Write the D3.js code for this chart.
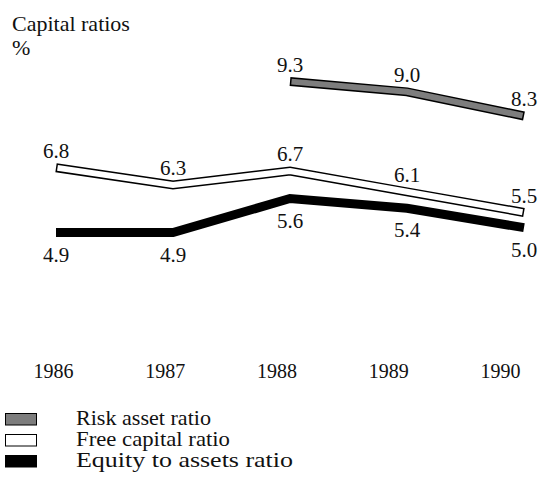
<!DOCTYPE html>
<html>
<head>
<meta charset="utf-8">
<script src="https://cdn.jsdelivr.net/npm/d3@7"></script>
<style>
  body { margin: 0; background: #fff; }
  svg { display: block; }
  svg text { font-family: "Liberation Serif", "DejaVu Serif", serif; fill: #111; }
</style>
</head>
<body>
<svg width="548" height="488"></svg>
<script>
// data
const years = ['1986', '1987', '1988', '1989', '1990'];
const riskYears = ['1988', '1989', '1990'];
const riskAsset = [9.3, 9.0, 8.3];
const freeCapital = [6.8, 6.3, 6.7, 6.1, 5.5];
const equityAssets = [4.9, 4.9, 5.6, 5.4, 5.0];
const legendLabels = ['Risk asset ratio', 'Free capital ratio', 'Equity to assets ratio'];

const serif = '"Liberation Serif", "DejaVu Serif", serif';
const svg = d3.select('svg').attr('font-family', serif);

// the original is drawn schematically: equity band uses its own vertical scale
const xScale = d3.scalePoint().domain(years).range([56, 524]);
const xAxisScale = d3.scalePoint().domain(years).range([53, 500]);
const yMain = d3.scaleLinear().domain([5.5, 9.3]).range([212.5, 81.5]);
const yEquity = d3.scaleLinear().domain([4.9, 5.6]).range([232.5, 198.5]);

const bandWidth = 9;

const series = [
  { x: riskYears, v: riskAsset, y: yMain, fill: '#7d7d7d', labelDy: -10 },
  { x: years, v: freeCapital, y: yMain, fill: '#fff', labelDy: -10 },
  { x: years, v: equityAssets, y: yEquity, fill: null, labelDy: 29 }
];

series.forEach(s => {
  const pts = s.v.map((v, i) => [xScale(s.x[i]), s.y(v)]);
  const line = d3.line();

  svg.append('path')
    .attr('d', line(pts))
    .attr('fill', 'none')
    .attr('stroke', '#000')
    .attr('stroke-width', bandWidth)
    .attr('stroke-linejoin', 'miter')
    .attr('stroke-linecap', 'butt');

  if (s.fill) {
    const inner = svg.append('path')
      .attr('d', line(pts))
      .attr('fill', 'none')
      .attr('stroke', s.fill)
      .attr('stroke-width', bandWidth - 3)
      .attr('stroke-linejoin', 'miter');
    const L = inner.node().getTotalLength();
    inner.attr('stroke-dasharray', `0 1.5 ${L - 3} 10`);
  }

  svg.append('g').selectAll('text')
    .data(s.v)
    .join('text')
      .attr('x', (d, i) => xScale(s.x[i]))
      .attr('y', d => s.y(d) + s.labelDy)
      .attr('text-anchor', 'middle')
      .attr('font-size', 21)
      .text(d => d.toFixed(1));
});

// year labels
const xAxis = d3.axisBottom(xAxisScale).tickSize(0).tickPadding(0);
const xAxisG = svg.append('g')
  .attr('transform', 'translate(0,364)')
  .call(xAxis)
  .attr('font-family', serif)
  .attr('font-size', 20);
xAxisG.select('.domain').remove();
xAxisG.selectAll('text')
  .attr('dy', '0.7em')
  .attr('fill', '#111');

// title
svg.append('text').attr('x', 12).attr('y', 31).attr('font-size', 22).text('Capital ratios');
svg.append('text').attr('x', 12).attr('y', 55).attr('font-size', 22).text('%');

// legend
const legendFills = ['#7d7d7d', '#fff', '#000'];
const legendWidths = [135, 154, 217];
const legend = svg.append('g').attr('transform', 'translate(5,413)');
legendLabels.forEach((label, i) => {
  const row = legend.append('g').attr('transform', `translate(0,${i * 21})`);
  row.append('rect')
    .attr('x', 0.5).attr('y', 0.5)
    .attr('width', 31).attr('height', 11.5)
    .attr('fill', legendFills[i])
    .attr('stroke', '#000')
    .attr('stroke-width', 1);
  row.append('text')
    .attr('x', 71).attr('y', 12)
    .attr('font-size', 22)
    .attr('textLength', legendWidths[i])
    .attr('lengthAdjust', 'spacingAndGlyphs')
    .text(label);
});
</script>
</body>
</html>
